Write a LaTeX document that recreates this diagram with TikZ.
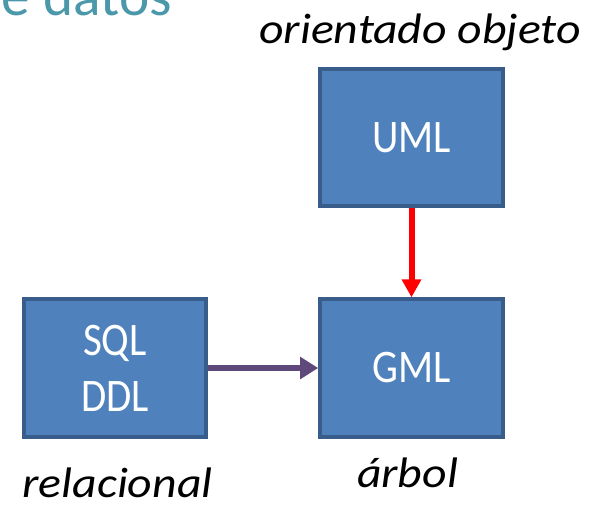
\documentclass[tikz,border=0pt]{standalone}
\usepackage{fontspec}
\setmainfont{Carlito}
\usetikzlibrary{arrows.meta}

\definecolor{cajafondo}{HTML}{4F81BD}
\definecolor{cajaborde}{HTML}{385D8A}
\definecolor{flecha}{HTML}{5F497A}
\definecolor{titulo}{RGB}{75,152,170}

% Text is a little narrower in the boxes, wider in the labels
\newcommand{\estrecho}[1]{\scalebox{0.88}[1]{#1}}
\newcommand{\ancho}[1]{\scalebox{1.12}[1]{#1}}

\tikzset{
  modelo/.style={draw=cajaborde, fill=cajafondo, line width=3pt,
    minimum width=137pt, minimum height=103pt, inner sep=0pt,
    text=white, align=center, font=\fontsize{35}{42}\selectfont},
  etiqueta/.style={font=\fontsize{32}{36}\selectfont\itshape, inner sep=0pt, anchor=base},
}

\begin{document}
\begin{tikzpicture}[x=0.75pt,y=-0.75pt]

  % Page (pixel units)
  \useasboundingbox (0,0) rectangle (598,504);

  % Title, cut at the top
  \node[text=titulo, font=\fontsize{43}{48}\selectfont, anchor=base east, inner sep=0pt] (titulo) at (172,15) {e datos};

  % Models
  \node[modelo] (uml) at (411.5,137.5) {\estrecho{UML}};
  \node[modelo] (gml) at (411.5,368) {\estrecho{GML}};
  \node[modelo] (sql) at (115,368) {\estrecho{SQL}\\\estrecho{DDL}};

  % Labels
  \node[etiqueta] (oo)  at (420,43)  {\ancho{orientado objeto}};
  \node[etiqueta] (rel) at (117.5,497) {\ancho{relacional}};
  \node[etiqueta] (arb) at (407.5,487) {\ancho{árbol}};

  % Arrows
  \draw[red, line width=4.5pt, -{Triangle[length=13.5pt,width=14pt]}] (uml.south) -- (gml.north);
  \draw[flecha, line width=4.5pt, -{Triangle[length=13.5pt,width=16pt]}] (sql.east) -- (gml.west);

\end{tikzpicture}
\end{document}
